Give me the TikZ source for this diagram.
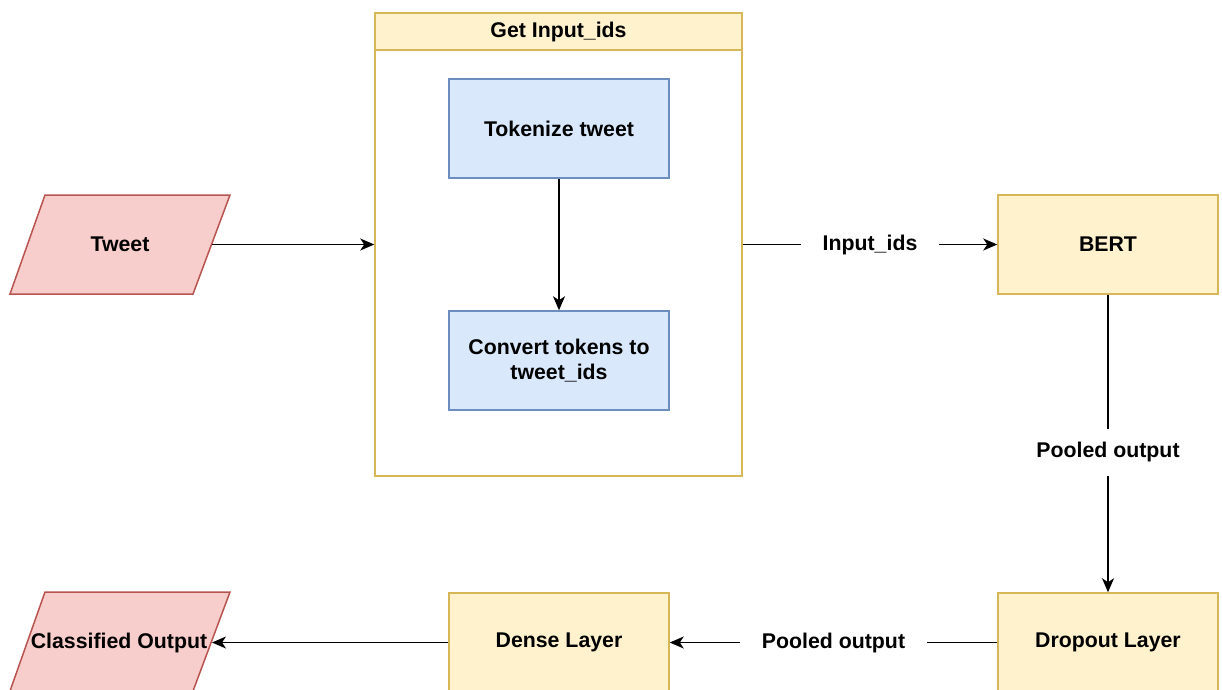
\documentclass[tikz,border=0pt]{standalone}
\usepackage{fontspec}
\setmainfont{Liberation Sans}
\usetikzlibrary{arrows.meta}
\definecolor{pinkF}{HTML}{F8CECC}
\definecolor{pinkD}{HTML}{B85450}
\definecolor{yelF}{HTML}{FFF2CC}
\definecolor{yelD}{HTML}{D6B656}
\definecolor{bluF}{HTML}{DAE8FC}
\definecolor{bluD}{HTML}{6C8EBF}
\begin{document}
\begin{tikzpicture}[x=1pt,y=-1pt,
  font=\fontsize{21.3}{25}\selectfont\bfseries,
  box/.style={draw, line width=1.5pt, minimum width=220pt, minimum height=99pt, align=center, inner sep=0pt},
  ybox/.style={box, fill=yelF, draw=yelD},
  bbox/.style={box, fill=bluF, draw=bluD},
  para/.style={draw=pinkD, fill=pinkF, line width=1.5pt},
  conn/.style={line width=1.6pt, -{Stealth[length=14pt,width=12pt,inset=4pt]}},
  lbl/.style={fill=white, inner xsep=22pt, inner ysep=14pt}
]
\useasboundingbox (0,0) rectangle (1222,689);
\clip (0,0) rectangle (1222,689);

% Tweet (input parallelogram)
\draw[para] (45,195) -- (230,195) -- (193,294) -- (10,294) -- cycle;
\node (tweet) at (120,244.5) {Tweet};
\coordinate (tweetR) at (211.5,244.5);

% Classified output parallelogram
\draw[para] (45,592) -- (230,592) -- (193,691) -- (10,691) -- cycle;
\node (cls) at (119,642.5) {Classified Output};
\coordinate (clsR) at (212,642.5);

% Container
\node[draw=yelD, line width=1.5pt, fill=white, minimum width=367pt, minimum height=463pt, inner sep=0pt] (cont) at (558.5,244.5) {};
\node[draw=yelD, line width=1.5pt, fill=yelF, minimum width=367pt, minimum height=37pt, inner sep=0pt] (head) at (558.5,31.5) {Get Input\_ids};

\node[bbox] (tok) at (559,128.5) {Tokenize tweet};
\node[bbox] (conv) at (559,360.5) {Convert tokens to\\tweet\_ids};

\node[ybox] (bert) at (1108,244.5) {BERT};
\node[ybox] (drop) at (1108,642.5) {Dropout Layer};
\node[ybox] (dense) at (559,642.5) {Dense Layer};

% Connectors
\draw[conn] (tweetR) -- (cont.west);
\draw[conn] (tok) -- (conv);
\draw[conn] (cont.east) -- node[lbl] {Input\_ids} (bert.west);
\draw[conn] (bert) -- node[lbl, pos=0.53, inner xsep=4pt] {Pooled output} (drop);
\draw[conn] (drop) -- node[lbl] {Pooled output} (dense);
\draw[conn] (dense) -- (clsR);
\end{tikzpicture}
\end{document}
